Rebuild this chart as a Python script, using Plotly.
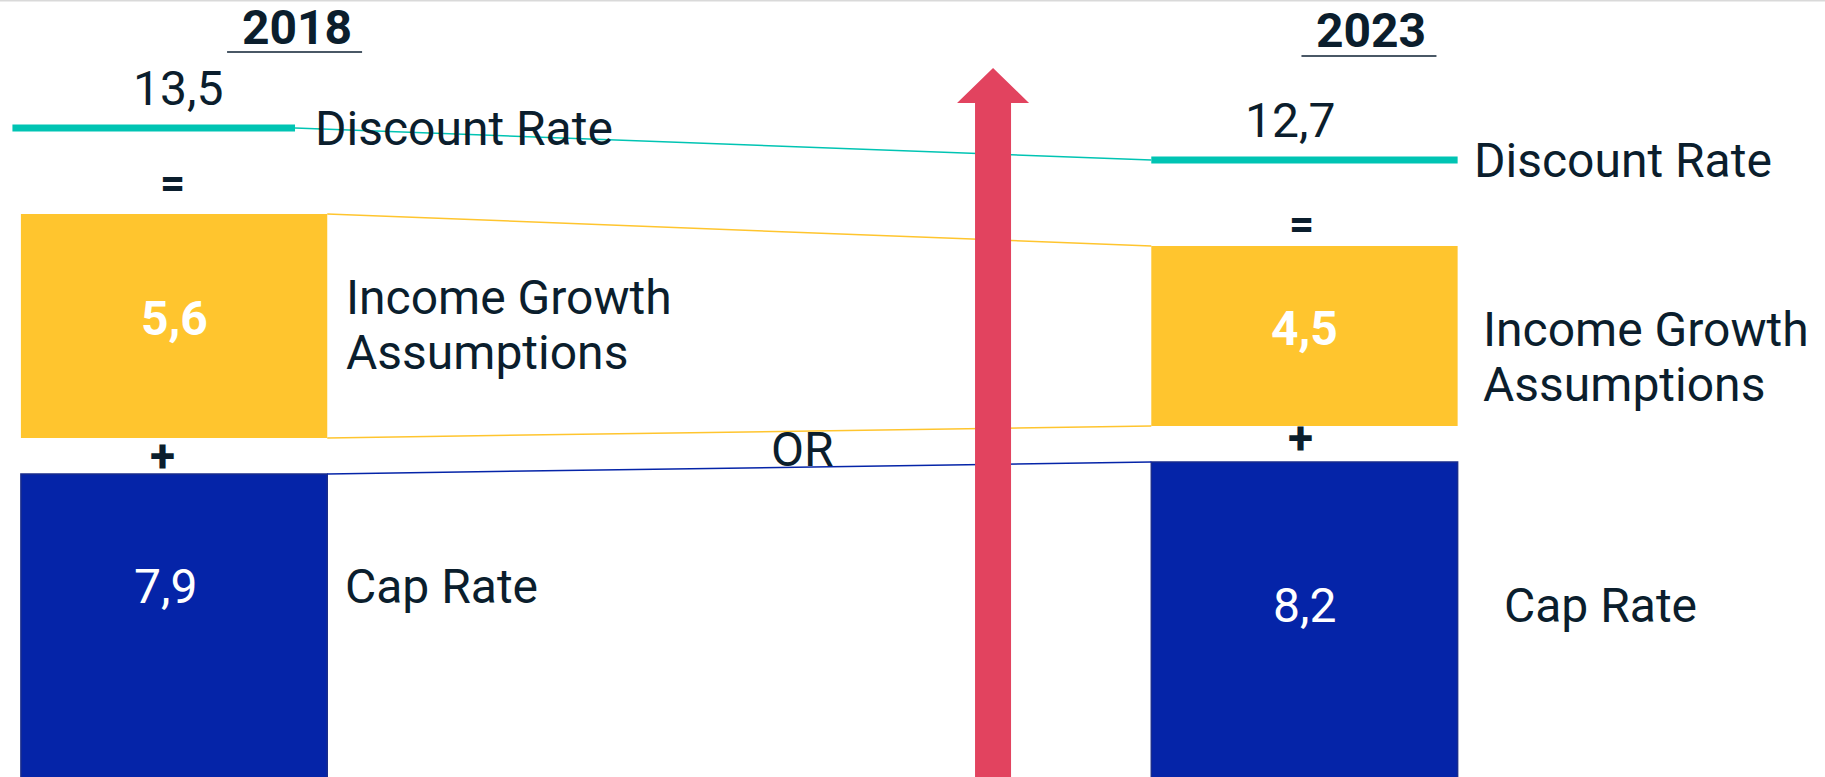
import plotly.graph_objects as go

# --- data -------------------------------------------------------------
years = ["2018", "2023"]
cap_rate = [7.9, 8.2]
income_growth = [5.6, 4.5]
discount_rate = [13.5, 12.7]          # = cap rate + income growth
segment_labels = ["Cap Rate", "Income Growth<br>Assumptions", "Discount Rate"]


def fmt(v):
    return f"{v:.1f}".replace(".", ",")


# --- layout constants ---------------------------------------------------
W, H = 1825, 777
COL = [0, 1]                      # x position of each year column
BAR_W = 0.271
X_RANGE = [-0.154, 1.4605]
Y_RANGE = [0.325, 19.75]
GAP = 0.9                         # room between stacked blocks for the sign
DR_GAP = 2.15                     # distance from stack top to discount line
DR_SPAN = [(-0.143, 0.107), (-0.1355, 0.1355)]
PXU = W / (X_RANGE[1] - X_RANGE[0])   # pixels per x unit
OR_X = 0.556
ARROW_X = 0.7245

NAVY = "#0b1e2d"
BLUE = "#0524a8"
BLUE_EDGE = "#1a2d8c"
YELLOW = "#ffc52e"
TEAL = "#00c4b3"
RED = "#e2435f"
FONT = "Roboto"
FS = 48

yellow_base = [c + GAP for c in cap_rate]
yellow_top = [b + g for b, g in zip(yellow_base, income_growth)]
dr_y = [d + GAP + DR_GAP for d in discount_rate]
half = BAR_W / 2

fig = go.Figure()

# connector lines between the two years
def connector(x0, y0, x1, y1, color):
    fig.add_trace(go.Scatter(x=[x0, x1], y=[y0, y1], mode="lines",
                             line=dict(color=color, width=1.5),
                             hoverinfo="skip", showlegend=False))

connector(COL[0] + DR_SPAN[0][1], dr_y[0], COL[1] + DR_SPAN[1][0], dr_y[1], TEAL)
connector(COL[0] + half, yellow_top[0], COL[1] - half, yellow_top[1], YELLOW)
connector(COL[0] + half, yellow_base[0], COL[1] - half, yellow_base[1], YELLOW)
connector(COL[0] + half, cap_rate[0], COL[1] - half, cap_rate[1], BLUE)

# stacked blocks
fig.add_trace(go.Bar(x=COL, y=cap_rate, base=[0, 0], width=BAR_W,
                     marker=dict(color=BLUE, line=dict(color=BLUE_EDGE, width=1.5)),
                     name=segment_labels[0], showlegend=False))
fig.add_trace(go.Bar(x=COL, y=income_growth, base=yellow_base, width=BAR_W,
                     marker=dict(color=YELLOW, line=dict(width=0)),
                     name="Income Growth Assumptions", showlegend=False))

# discount rate levels
for i in range(2):
    fig.add_trace(go.Scatter(x=[COL[i] + DR_SPAN[i][0], COL[i] + DR_SPAN[i][1]],
                             y=[dr_y[i], dr_y[i]], mode="lines",
                             line=dict(color=TEAL, width=7),
                             name=segment_labels[2], showlegend=False))

ann = []
shapes = []


def text(x, y, t, size=FS, color=NAVY, xanchor="center", xshift=0, yshift=0,
         yref="y", align="center"):
    ann.append(dict(x=x, y=y, xref="x", yref=yref, text=t, showarrow=False,
                    xanchor=xanchor, yanchor="middle", xshift=xshift,
                    yshift=yshift, align=align,
                    font=dict(family=FONT, size=size, color=color)))


HEAD_SHIFT = [123, 67]
HEAD_Y = [27, 31]
DRV_SHIFT = [4, -14]
DRL_SHIFT = [18, 14]
EQ_SHIFT = [-2, -3]
EQ_Y = [31, 22]
PLUS_SHIFT = [-12, -4]
PLUS_Y = [0, 6]
IG_SHIFT = [17, 23]
IG_Y = [1, -21]
CAPV_SHIFT = [-9, 0]
CAP_SHIFT = [16, 44]
CAP_Y = [14, -12]
LINE_GAP = 55

for i in range(2):
    # year header with underline
    text(COL[i], 1 - HEAD_Y[i] / H, f"<b>{years[i]}</b>", xshift=HEAD_SHIFT[i],
         yref="paper")
    cx = COL[i] + HEAD_SHIFT[i] / PXU
    uy = 1 - (HEAD_Y[i] + 25) / H
    shapes.append(dict(type="line", xref="x", yref="paper",
                       x0=cx - 70 / PXU, x1=cx + 65 / PXU, y0=uy, y1=uy,
                       line=dict(color="#4a5866", width=2)))

    # discount rate value and label
    text(COL[i], dr_y[i], fmt(discount_rate[i]), xshift=DRV_SHIFT[i], yshift=40)
    text(COL[i] + DR_SPAN[i][1], dr_y[i], segment_labels[2], xanchor="left",
         xshift=DRL_SHIFT[i])
    text(COL[i], yellow_top[i], "<b>=</b>", size=44, xshift=EQ_SHIFT[i],
         yshift=EQ_Y[i])

    # income growth block
    ymid = yellow_base[i] + income_growth[i] / 2
    text(COL[i], ymid, f"<b>{fmt(income_growth[i])}</b>", size=FS, color="white",
         yshift=8)
    for k, line in enumerate(segment_labels[1].split("<br>")):
        text(COL[i] + half, ymid, line, xanchor="left", xshift=IG_SHIFT[i],
             yshift=IG_Y[i] + LINE_GAP / 2 - k * LINE_GAP)
    text(COL[i], cap_rate[i] + GAP / 2, "<b>+</b>", size=46, xshift=PLUS_SHIFT[i],
         yshift=PLUS_Y[i])

    # cap rate block
    text(COL[i], cap_rate[i] * 0.6, fmt(cap_rate[i]), color="white",
         xshift=CAPV_SHIFT[i], yshift=CAP_Y[i])
    text(COL[i] + half, cap_rate[i] * 0.6, segment_labels[0], xanchor="left",
         xshift=CAP_SHIFT[i], yshift=CAP_Y[i])

# "OR" between the yellow and blue connectors
t = (OR_X - (COL[0] + half)) / ((COL[1] - half) - (COL[0] + half))
y_yb = yellow_base[0] + t * (yellow_base[1] - yellow_base[0])
y_cr = cap_rate[0] + t * (cap_rate[1] - cap_rate[0])
text(OR_X, (y_yb + y_cr) / 2, "OR")

# rising arrow
sh, hh = 18 / PXU, 36 / PXU
tip, neck, bottom = 1 - 68 / H, 1 - 103 / H, 0
path = (f"M {ARROW_X - sh},{bottom} L {ARROW_X - sh},{neck} L {ARROW_X - hh},{neck} "
        f"L {ARROW_X},{tip} L {ARROW_X + hh},{neck} L {ARROW_X + sh},{neck} "
        f"L {ARROW_X + sh},{bottom} Z")
shapes.append(dict(type="path", xref="x", yref="paper", path=path,
                   fillcolor=RED, line=dict(width=0), layer="above"))

# thin frame line along the top edge
shapes.append(dict(type="line", xref="paper", yref="paper", x0=0, x1=1, y0=1, y1=1,
                   line=dict(color="#d9d9d9", width=3)))

fig.update_layout(
    width=W, height=H,
    margin=dict(l=0, r=0, t=0, b=0),
    paper_bgcolor="white", plot_bgcolor="white",
    barmode="overlay",
    showlegend=False,
    xaxis=dict(range=X_RANGE, visible=False, fixedrange=True),
    yaxis=dict(range=Y_RANGE, visible=False, fixedrange=True),
    annotations=ann,
    shapes=shapes,
    font=dict(family=FONT, color=NAVY),
)

fig.write_html("out.html")
